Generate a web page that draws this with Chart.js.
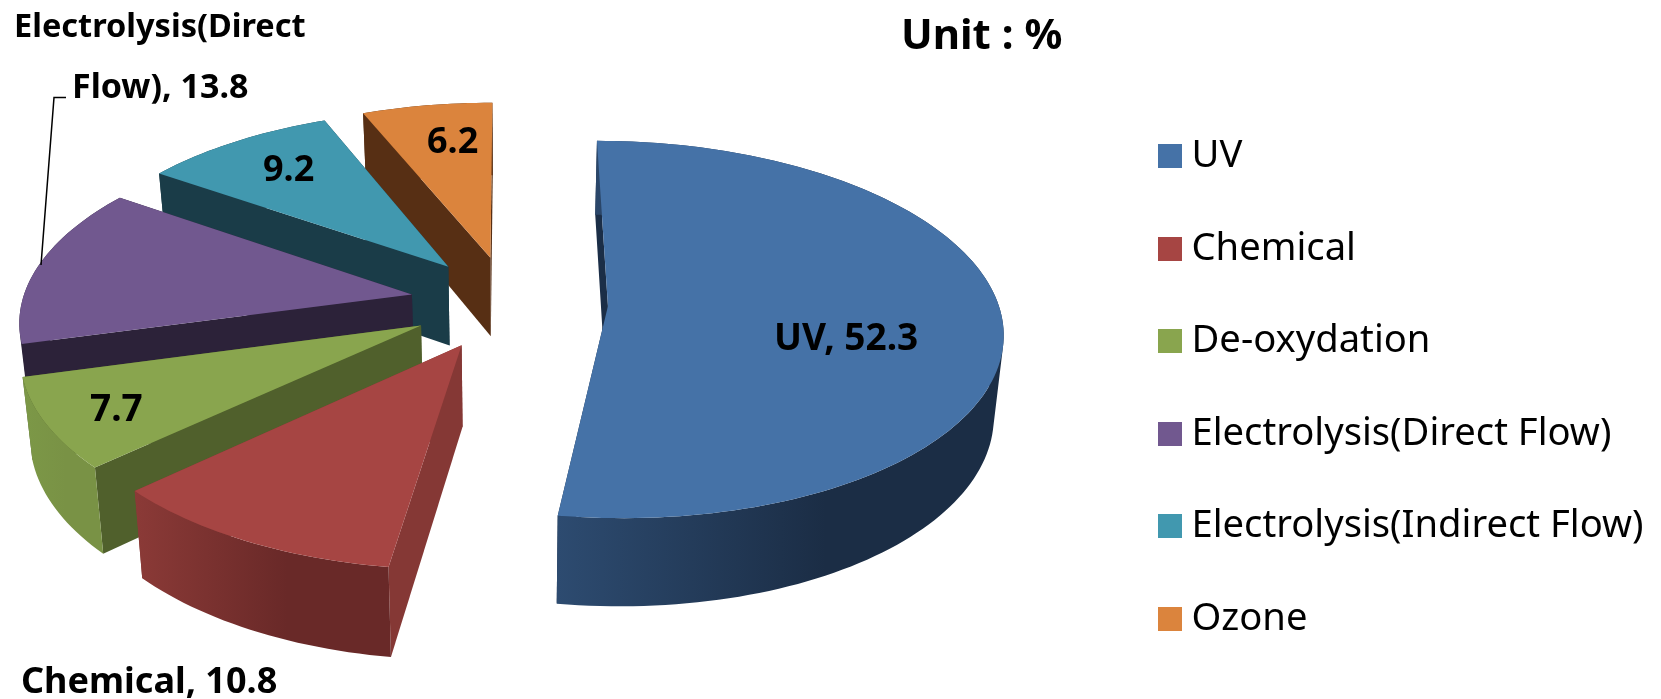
<!DOCTYPE html>
<html>
<head>
<meta charset="utf-8">
<title>Unit : %</title>
<script src="https://cdn.jsdelivr.net/npm/chart.js@4"></script>
<style>
html, body { margin: 0; padding: 0; background: #fff; }
#box { width: 1661px; height: 699px; }
</style>
</head>
<body>
<div id="box"><canvas id="grafico"></canvas></div>
<script>
// Dados
const categories = ["UV", "Chemical", "De-oxydation", "Electrolysis(Direct Flow)", "Electrolysis(Indirect Flow)", "Ozone"];
const values = [52.3, 10.8, 7.7, 13.8, 9.2, 6.2];

// Cores
const topColors = ["#4572A7", "#A64543", "#89A54E", "#71588F", "#4198AF", "#DB843D"];
const cutColors = ["#1B2E47", "#853835", "#50602C", "#2C2239", "#1A3C48", "#572F14"];
const wallStart = ["#2D4B70", "#8B3A37", "#7C9847", "#2C2239", "#1A3C48", "#572F14"];
const wallEnd = ["#1B2D45", "#692928", "#799245", "#2C2239", "#1A3C48", "#572F14"];

// Perspective of the 3D pie, in pixels of the page
const view = { cx: 509, cy: 302.5, radius: 390, explode: 99, tilt: 0.474, persp: 0.00032, depth: 80 };

function topPoint(X, Y) {
    const w = 1 / (1 - view.persp * Y);
    return { x: view.cx + X * w, y: view.cy + Y * view.tilt * w };
}

function bottomPoint(X, Y) {
    const w = 1 / (1 - view.persp * Y);
    return {
        x: view.cx + X * w * 0.98,
        y: view.cy + Y * view.tilt * w + view.depth * (1 + 0.7 * (w - 1))
    };
}

function poly(ctx, pts, fill) {
    ctx.beginPath();
    pts.forEach((p, i) => i ? ctx.lineTo(p.x, p.y) : ctx.moveTo(p.x, p.y));
    ctx.closePath();
    ctx.fillStyle = fill;
    ctx.fill();
}

// Quads of the outer wall, all wound the same way so one fill covers them without seams
function wall(ctx, upper, lower, fill) {
    ctx.beginPath();
    for (let k = 0; k < upper.length - 1; k++) {
        let q = [upper[k], upper[k + 1], lower[k + 1], lower[k]];
        let area = 0;
        q.forEach((p, n) => {
            const o = q[(n + 1) % 4];
            area += p.x * o.y - o.x * p.y;
        });
        if (area < 0) q = q.reverse();
        q.forEach((p, n) => n ? ctx.lineTo(p.x, p.y) : ctx.moveTo(p.x, p.y));
        ctx.closePath();
    }
    ctx.fillStyle = fill;
    ctx.fill();
}

// Draws one slice from the angles the library computed
function drawSlice(ctx, arc, i) {
    const { startAngle, endAngle } = arc.getProps(["startAngle", "endAngle"]);
    const mid = (startAngle + endAngle) / 2;
    const ax = Math.cos(mid) * view.explode;
    const ay = Math.sin(mid) * view.explode;
    const rim = [];
    const steps = Math.ceil((endAngle - startAngle) * 40);
    for (let s = 0; s <= steps; s++) {
        const a = startAngle + (endAngle - startAngle) * s / steps;
        rim.push([ax + Math.cos(a) * view.radius, ay + Math.sin(a) * view.radius]);
    }
    const rimTop = rim.map(p => topPoint(p[0], p[1]));
    const rimBottom = rim.map(p => bottomPoint(p[0], p[1]));

    // cut faces
    [rim[rim.length - 1], rim[0]].forEach(p => {
        poly(ctx, [topPoint(ax, ay), topPoint(p[0], p[1]), bottomPoint(p[0], p[1]), bottomPoint(ax, ay)], cutColors[i]);
    });

    // outer wall
    const xs = rimTop.map(p => p.x);
    const grad = ctx.createLinearGradient(Math.min(...xs), 0, Math.max(...xs), 0);
    grad.addColorStop(0, wallStart[i]);
    grad.addColorStop(0.6, wallEnd[i]);
    grad.addColorStop(1, wallEnd[i]);
    wall(ctx, rimTop, rimBottom, grad);

    // top face
    poly(ctx, [topPoint(ax, ay)].concat(rimTop), arc.options.backgroundColor);
}

const pie3d = {
    id: "pie3d",
    beforeDatasetsDraw(chart) {
        const ctx = chart.ctx;
        const arcs = chart.getDatasetMeta(0).data;
        ctx.save();
        for (let i = arcs.length - 1; i >= 0; i--) drawSlice(ctx, arcs[i], i);
        ctx.restore();
        return false;
    }
};

function boldText(ctx, text, size, x, y) {
    ctx.font = 'bold ' + size + 'px "Noto Sans"';
    ctx.fillText(text, x, y);
}

const notes = {
    id: "notes",
    afterDraw(chart) {
        const ctx = chart.ctx;
        ctx.save();
        ctx.textAlign = "left";
        ctx.textBaseline = "alphabetic";
        ctx.fillStyle = "#000";
        boldText(ctx, categories[0] + ", " + values[0], 37, 774, 350);
        boldText(ctx, categories[1] + ", " + values[1], 36, 21, 693);
        boldText(ctx, String(values[2]), 37, 90, 421);
        boldText(ctx, "Electrolysis(Direct", 32.5, 14, 37);
        boldText(ctx, "Flow), " + values[3], 34, 72, 98);
        boldText(ctx, String(values[4]), 36, 263, 181);
        boldText(ctx, String(values[5]), 36, 427, 153);
        boldText(ctx, "Unit : %", 42, 901, 49);

        // leader line of the Electrolysis label
        ctx.strokeStyle = "#000";
        ctx.lineWidth = 1.5;
        ctx.beginPath();
        ctx.moveTo(66, 97.5);
        ctx.lineTo(54, 97.5);
        ctx.lineTo(41, 265);
        ctx.stroke();
        ctx.restore();
    }
};

function swatch(color) {
    const c = document.createElement("canvas");
    c.width = 24;
    c.height = 24;
    const g = c.getContext("2d");
    g.fillStyle = color;
    g.fillRect(0, 0, 24, 24);
    return c;
}

new Chart(document.getElementById("grafico"), {
    type: "pie",
    data: {
        labels: categories,
        datasets: [{ data: values, backgroundColor: topColors, borderWidth: 0 }]
    },
    plugins: [pie3d, notes],
    options: {
        responsive: true,
        maintainAspectRatio: false,
        animation: false,
        events: [],
        layout: { padding: { top: 76, right: 7.5 } },
        plugins: {
            tooltip: { enabled: false },
            legend: {
                position: "right",
                align: "center",
                labels: {
                    usePointStyle: true,
                    boxWidth: 4,
                    boxHeight: 24,
                    padding: 54.3,
                    color: "#000",
                    font: { family: '"Noto Sans"', size: 38.2 },
                    generateLabels(chart) {
                        return categories.map((text, i) => ({
                            text: text,
                            fillStyle: topColors[i],
                            strokeStyle: topColors[i],
                            lineWidth: 0,
                            pointStyle: swatch(topColors[i]),
                            hidden: false,
                            index: i
                        }));
                    }
                }
            }
        }
    }
});
</script>
</body>
</html>
